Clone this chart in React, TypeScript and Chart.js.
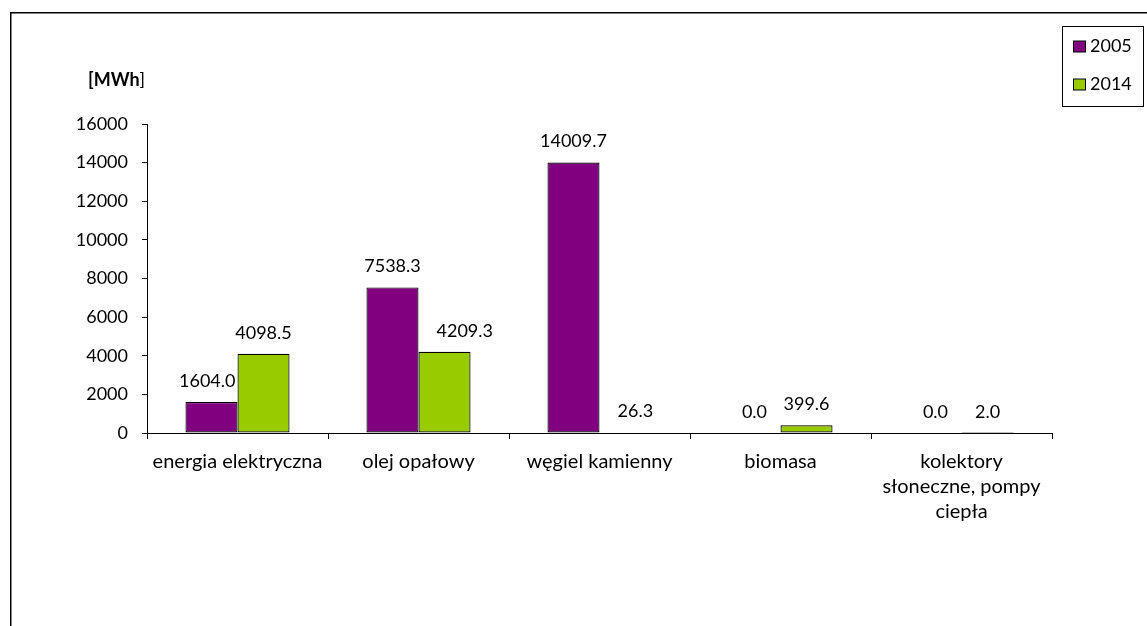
import React, { useEffect, useRef } from "react";
import { Chart, registerables } from "chart.js";

Chart.register(...registerables);

const categories: (string | string[])[] = [
  "energia elektryczna",
  "olej opałowy",
  "węgiel kamienny",
  "biomasa",
  ["kolektory", "słoneczne, pompy", "ciepła"],
];
const series2005 = [1604.0, 7538.3, 14009.7, 0.0, 0.0];
const series2014 = [4098.5, 4209.3, 26.3, 399.6, 2.0];
const seriesLabels = ["2005", "2014"];
const seriesColors = ["#800080", "#99CC00"];
const yTicks = [0, 2000, 4000, 6000, 8000, 10000, 12000, 14000, 16000];
const unitLabel = "[MWh";

const FONT = "Lato";

const decorPlugin = {
  id: "decor",
  beforeDraw(chart: any) {
    const ctx = chart.ctx;
    ctx.save();
    ctx.fillStyle = "#ffffff";
    ctx.fillRect(0, 0, chart.width, chart.height);
    ctx.strokeStyle = "#000000";
    ctx.lineWidth = 1.5;
    ctx.beginPath();
    ctx.moveTo(10.75, chart.height + 2);
    ctx.lineTo(10.75, 12.75);
    ctx.lineTo(chart.width + 2, 12.75);
    ctx.stroke();
    ctx.restore();
  },
  afterDatasetsDraw(chart: any) {
    const ctx = chart.ctx;
    ctx.save();
    ctx.font = `18px ${FONT}`;
    ctx.fillStyle = "#000000";
    ctx.textAlign = "center";
    ctx.textBaseline = "middle";
    const meta0 = chart.getDatasetMeta(0);
    const meta1 = chart.getDatasetMeta(1);
    chart.data.datasets.forEach((ds: any, di: number) => {
      const meta = chart.getDatasetMeta(di);
      meta.data.forEach((el: any, i: number) => {
        const v = ds.data[i] as number;
        const txt = v.toFixed(1);
        const tw = ctx.measureText(txt).width;
        let x = el.x;
        const y = el.y - 21;
        if (di === 1) {
          const prev = meta0.data[i];
          const prevRight = prev.x + prev.width / 2;
          const left = x - tw / 2;
          if (prev.y < y + 9 && left < prevRight + 18) {
            x = prevRight + 18 + tw / 2;
          }
        } else {
          const next = meta1.data[i];
          const nextLeft = next.x - next.width / 2;
          const right = x + tw / 2;
          if (next.y < y + 9 && right > nextLeft - 2) {
            x = nextLeft - 2 - tw / 2;
          }
        }
        ctx.fillText(txt, x, y);
      });
    });
    // unit label
    ctx.textAlign = "left";
    ctx.font = `bold 18px ${FONT}`;
    ctx.fillText(unitLabel, 88, 80);
    const w = ctx.measureText(unitLabel).width;
    ctx.font = `18px ${FONT}`;
    ctx.fillText("]", 88 + w, 80);
    // legend
    ctx.lineWidth = 1;
    ctx.strokeStyle = "#000000";
    ctx.strokeRect(1062.5, 26.5, 81, 80);
    const ys = [46.5, 84.5];
    chart.data.datasets.forEach((ds: any, di: number) => {
      const y = ys[di];
      ctx.fillStyle = ds.backgroundColor;
      ctx.fillRect(1073.5, y - 5.5, 12, 11);
      ctx.strokeRect(1073.5, y - 5.5, 12, 11);
      ctx.fillStyle = "#000000";
      ctx.font = `18px ${FONT}`;
      ctx.textBaseline = "middle";
      ctx.fillText(ds.label, 1090, y);
    });
    ctx.restore();
  },
};

export default function App() {
  const ref = useRef<HTMLCanvasElement>(null);
  useEffect(() => {
    document.body.style.margin = "0";
    const chart = new Chart(ref.current!, {
      type: "bar",
      data: {
        labels: categories as any,
        datasets: seriesLabels.map((lab, i) => ({
          label: lab,
          data: i === 0 ? series2005 : series2014,
          backgroundColor: seriesColors[i],
          borderColor: "#000000",
          borderWidth: 1.2,
          borderSkipped: false,
          categoryPercentage: 0.575,
          barPercentage: 1,
        })),
      },
      options: {
        responsive: false,
        animation: false,
        layout: { padding: { top: 124, right: 95, left: 0, bottom: 0 } },
        plugins: { legend: { display: false }, tooltip: { enabled: false } },
        scales: {
          x: {
            grid: {
              offset: true,
              drawOnChartArea: false,
              drawTicks: true,
              tickLength: 6,
              color: "#000000",
            },
            border: { color: "#000000", width: 1 },
            ticks: {
              color: "#000000",
              font: { family: FONT, size: 20, lineHeight: 1.25 },
              padding: 10,
              maxRotation: 0,
              autoSkip: false,
            },
            afterFit(scale: any) {
              scale.height = 626 - 433;
            },
          },
          y: {
            min: 0,
            max: 16000,
            afterBuildTicks(scale: any) {
              scale.ticks = yTicks.map((v) => ({ value: v }));
            },
            grid: {
              drawOnChartArea: false,
              drawTicks: true,
              tickLength: 5,
              color: "#000000",
            },
            border: { color: "#000000", width: 1 },
            ticks: {
              color: "#000000",
              font: { family: FONT, size: 18 },
              padding: 14,
              callback: (v: any) => String(v),
            },
            afterFit(scale: any) {
              scale.width = 147;
            },
          },
        },
      },
      plugins: [decorPlugin],
    });
    return () => chart.destroy();
  }, []);
  return <canvas ref={ref} width={1147} height={626} style={{ display: "block" }} />;
}
